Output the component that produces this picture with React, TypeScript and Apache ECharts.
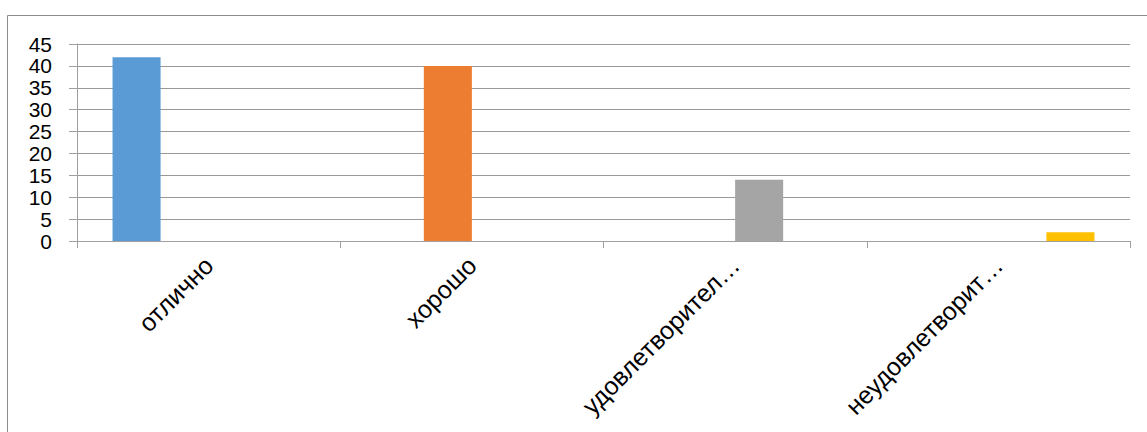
import React, { useEffect, useRef } from "react";
import * as echarts from "echarts";

const categories = ["отлично", "хорошо", "удовлетворительно", "неудовлетворительно"];
const seriesNames = ["отлично", "хорошо", "удовлетворительно", "неудовлетворительно"];
const values = [42, 40, 14, 2];
const colors = ["#5B9BD5", "#ED7D31", "#A5A5A5", "#FFC000"];
const yMin = 0;
const yMax = 45;
const yInterval = 5;

const FONT = "'Liberation Sans', Arial, sans-serif";

export default function App() {
  const ref = useRef<HTMLDivElement>(null);

  useEffect(() => {
    if (!ref.current) return;
    const chart = echarts.init(ref.current, null, { renderer: "svg" });
    const series = values.map((v, i) => ({
      type: "bar" as const,
      name: seriesNames[i],
      data: categories.map((_, j) => (j === i ? v : null)),
      itemStyle: { color: colors[i] },
      barGap: "0%",
      barCategoryGap: "27%",
    }));
    chart.setOption({
      animation: false,
      backgroundColor: "#ffffff",
      grid: { left: 77, right: 17, top: 44, bottom: 191, containLabel: false },
      graphic: [
        {
          type: "rect",
          shape: { x: 7.5, y: 15.5, width: 1200, height: 500 },
          style: { fill: "none", stroke: "#8c8c8c", lineWidth: 1 },
          silent: true,
        },
      ],
      xAxis: {
        type: "category",
        data: categories,
        axisLine: { show: true, lineStyle: { color: "#a0a0a0", width: 1 } },
        axisTick: { show: true, length: 7, lineStyle: { color: "#a0a0a0" } },
        axisLabel: {
          interval: 0,
          rotate: 45,
          margin: 20,
          color: "#000",
          fontFamily: FONT,
          fontSize: 25,
          formatter: (s: string) => (s.length > 15 ? s.slice(0, 14) + "…" : s),
        },
        splitLine: { show: false },
      },
      yAxis: {
        type: "value",
        min: yMin,
        max: yMax,
        interval: yInterval,
        axisLine: { show: true, lineStyle: { color: "#a0a0a0", width: 1 } },
        axisTick: { show: true, length: 8, lineStyle: { color: "#a0a0a0" } },
        axisLabel: {
          margin: 25,
          color: "#000",
          fontFamily: FONT,
          fontSize: 21,
          lineHeight: 18,
          showMinLabel: true,
          showMaxLabel: true,
          hideOverlap: false,
        },
        splitLine: { show: true, lineStyle: { color: "#999999", width: 1 } },
      },
      series,
    });
    return () => chart.dispose();
  }, []);

  return (
    <div
      ref={ref}
      style={{ position: "absolute", left: 0, top: 0, width: 1147, height: 432, background: "#fff" }}
    />
  );
}
